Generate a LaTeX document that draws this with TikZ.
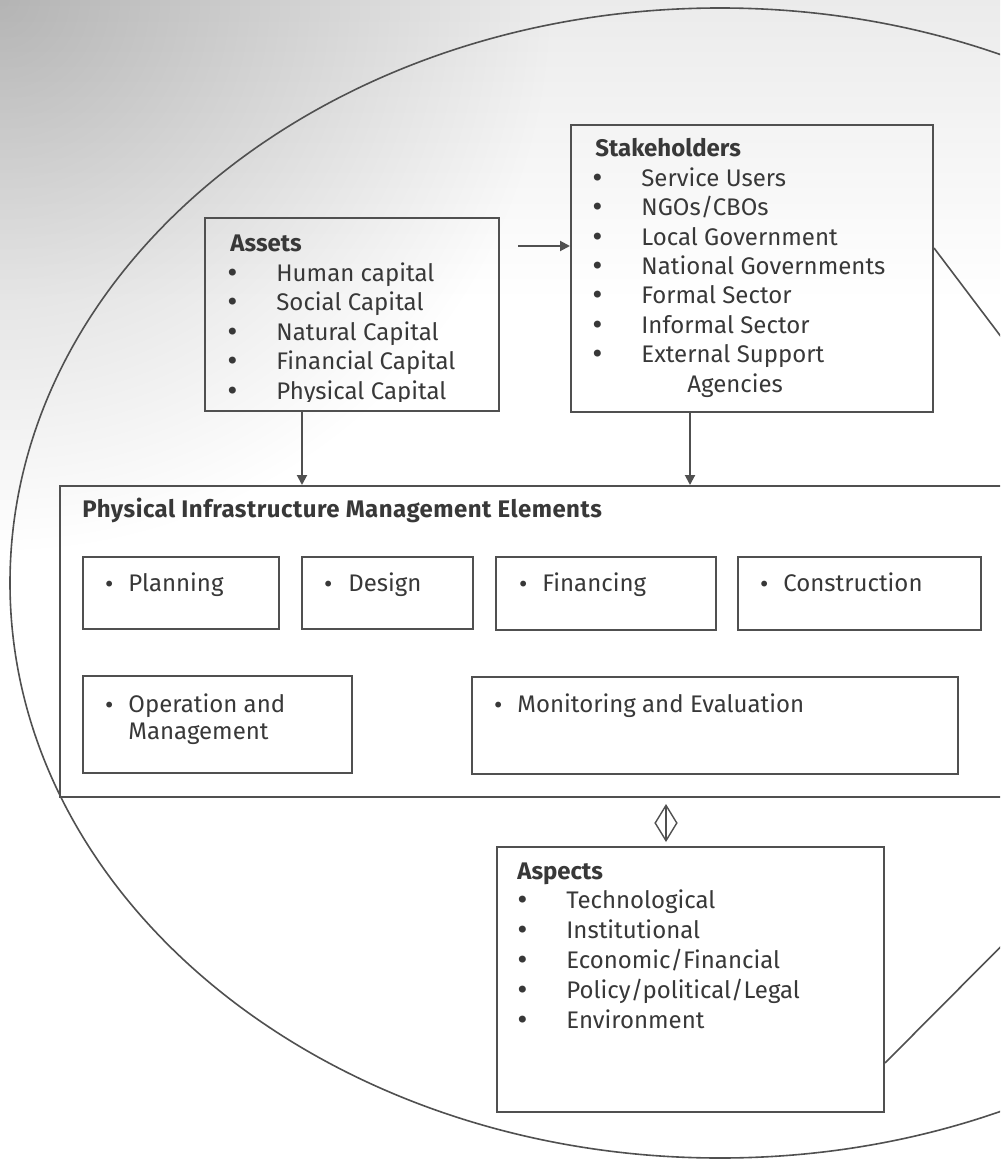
\documentclass[tikz,border=0pt]{standalone}
\usepackage{fontspec}
\setmainfont{Fira Sans}
\newfontfamily\bulletfont{DejaVu Sans}
\usetikzlibrary{arrows.meta,fit}
\definecolor{ink}{HTML}{383838}
\definecolor{edge}{HTML}{505050}
\pgfdeclareverticalshading{bgshade}{100bp}{color(0bp)=(white); color(62bp)=(white); color(72bp)=(black!6); color(87bp)=(black!15); color(100bp)=(black!28)}
\begin{document}
\begin{tikzpicture}[x=0.5pt,y=-0.5pt,
  box/.style={draw=edge, line width=1pt, inner sep=0pt},
  txt/.style={anchor=base west, inner sep=0pt, text=ink, font=\fontsize{12}{14}\selectfont},
  bul/.style={anchor=base west, inner sep=0pt, text=ink, font=\fontsize{12}{14}\selectfont\bulletfont},
  sbul/.style={anchor=base west, inner sep=0pt, text=ink, font=\fontsize{10}{14}\selectfont\bulletfont},
  ttl/.style={anchor=base west, inner sep=0pt, text=ink, font=\fontsize{12}{14}\selectfont\bfseries},
  arr/.style={draw=edge, line width=1pt, -{Triangle[length=5pt,width=5pt]}},
  dbl/.style={draw=edge, line width=0.7pt, {Straight Barb[length=9pt,width=11pt]}-{Straight Barb[length=9pt,width=11pt]}},
  thin/.style={draw=edge, line width=0.8pt},
]
\useasboundingbox (0,0) rectangle (1000,1160);
\clip (0,0) rectangle (1000,1160);
% background
\shade[shading=bgshade] (0,0) rectangle (1000,1160);
\foreach \r in {10,20,...,550}{
  \fill[black, fill opacity=0.0055] (0,0) circle [radius=\r];
}

% big ellipse
\draw[thin] (720,583) ellipse [x radius=710, y radius=575];

% boxes
\node[box, fit={(205,218)(499,411)}] (assets) {};
\node[box, fit={(571,125)(933,412)}] (stake) {};
\node[box, fit={(60,486)(1010,797)}] (pime) {};
\node[box, fit={(83,557)(279,629)}] (plan) {};
\node[box, fit={(302,557)(473,629)}] (design) {};
\node[box, fit={(496,557)(716,630)}] (fin) {};
\node[box, fit={(738,557)(981,630)}] (cons) {};
\node[box, fit={(83,676)(352,773)}] (oper) {};
\node[box, fit={(472,677)(958,774)}] (mon) {};
\node[box, fit={(497,847)(884,1112)}] (aspects) {};

% assets text (last line clipped by the box)
\begin{scope}
\clip (205,218) rectangle (499,401);
\node[ttl] (assets-t) at (230,252) {Assets};
\foreach \t [count=\i] in {Human capital,Social Capital,Natural Capital,Financial Capital,Physical Capital}{
  \node[bul] (assets-b\i) at (225,{252+29.4*\i}) {\char"2022};
  \node[txt] (assets-\i) at (276,{252+29.4*\i}) {\t};
}
\end{scope}

% stakeholders text
\node[ttl] (stake-t) at (595,157) {Stakeholders};
\foreach \t [count=\i] in {Service Users,NGOs/CBOs,Local Government,National Governments,Formal Sector,Informal Sector,External Support}{
  \node[bul] (stake-b\i) at (590,{157+29.4*\i}) {\char"2022};
  \node[txt] (stake-\i) at (641,{157+29.4*\i}) {\t};
}
\node[txt] (stake-8) at (687,392) {Agencies};

% PIME text
\node[ttl] (pime-t) at (82,517) {\addfontfeatures{LetterSpace=2}Physical Infrastructure Management Elements};
\node[sbul] (plan-b) at (103,591) {\char"2022};
\node[txt] (plan-t) at (128,591) {Planning};
\node[sbul] (design-b) at (322,591) {\char"2022};
\node[txt] (design-t) at (348,591) {Design};
\node[sbul] (fin-b) at (517,591) {\char"2022};
\node[txt] (fin-t) at (542,591) {Financing};
\node[sbul] (cons-b) at (758,591) {\char"2022};
\node[txt] (cons-t) at (783,591) {Construction};
\node[sbul] (oper-b) at (103,712) {\char"2022};
\node[txt] (oper-t1) at (128,712) {Operation and};
\node[txt] (oper-t2) at (128,739) {Management};
\node[sbul] (mon-b) at (492,712) {\char"2022};
\node[txt] (mon-t) at (517,712) {Monitoring and Evaluation};

% aspects text
\node[ttl] (aspects-t) at (517,879) {Aspects};
\foreach \t [count=\i] in {Technological,Institutional,Economic/Financial,Policy/political/Legal,Environment}{
  \node[bul] (aspects-b\i) at (515,{879+29.8*\i}) {\char"2022};
  \node[txt] (aspects-\i) at (566,{879+29.8*\i}) {\t};
}

% connectors
\coordinate (a2s) at (518,246);
\draw[arr] (a2s) -- (a2s -| stake.west);
\draw[arr] (302,0 |- assets.south) -- (302,0 |- pime.north);
\draw[arr] (690,0 |- stake.south) -- (690,0 |- pime.north);
\draw[dbl, shorten <=3pt, shorten >=2pt] (666,0 |- pime.south) -- (666,0 |- aspects.north);
\coordinate (offA) at (1070,428);
\coordinate (offB) at (1070,877);
\draw[thin] (stake.east |- 0,248) -- (offA);
\draw[thin] (aspects.east |- 0,1063) -- (offB);
\end{tikzpicture}
\end{document}
